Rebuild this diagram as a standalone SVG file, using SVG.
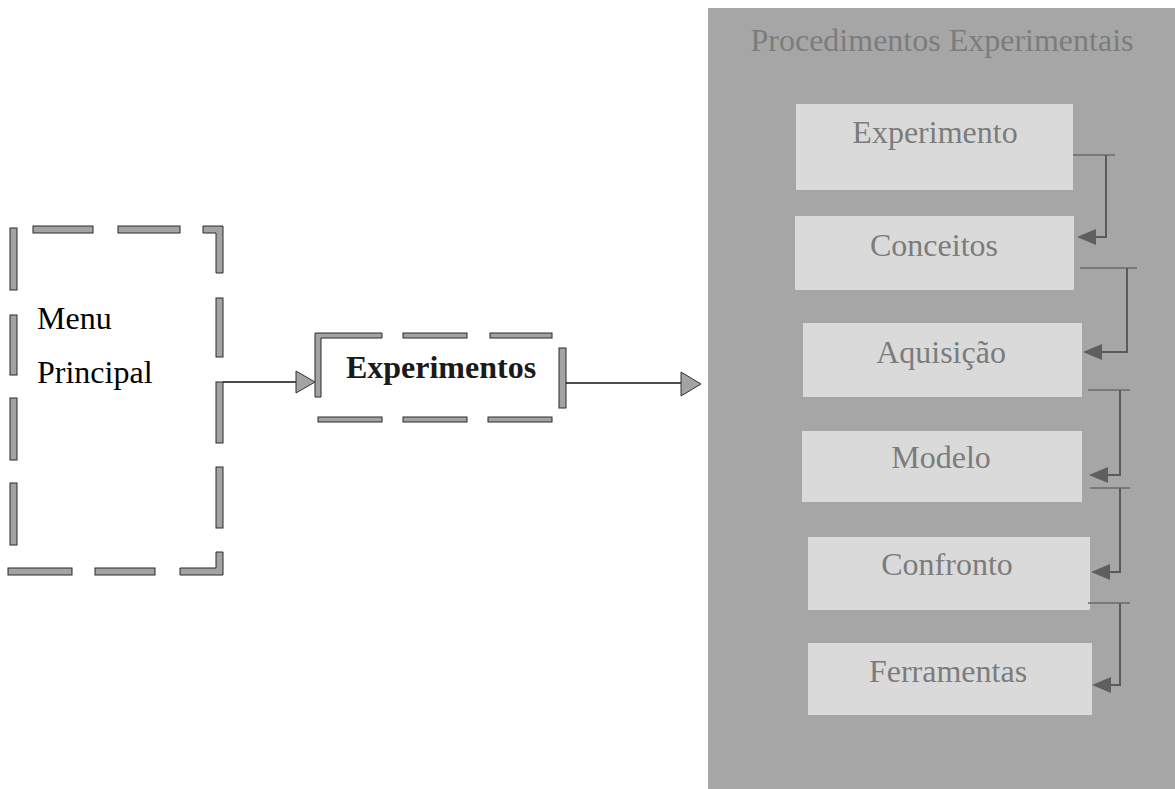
<svg xmlns="http://www.w3.org/2000/svg" width="1175" height="789" viewBox="0 0 1175 789">
<defs>
<style>
.dash{fill:#a3a3a3;stroke:#2a2a2a;stroke-width:1}
.txt{font-family:"Liberation Serif","Times New Roman",serif;font-size:32px}
.ptxt{font-family:"Liberation Serif","Times New Roman",serif;font-size:32px;fill:#7c7c7c;text-anchor:middle}
.inner{fill:#dadada}
.conn{fill:none;stroke:#5a5a5a;stroke-width:2}
.tick{fill:none;stroke:#6a6a6a;stroke-width:1.5}
.ah{fill:#5f5f5f}
.main{fill:none;stroke:#111;stroke-width:1.5}
.mah{fill:#a3a3a3;stroke:#333;stroke-width:1}
</style>
</defs>
<rect width="1175" height="789" fill="#ffffff"/>

<g id="menu-principal">
<rect class="dash" x="10" y="228" width="7" height="62"/>
<rect class="dash" x="10" y="315" width="7" height="60"/>
<rect class="dash" x="10" y="398" width="7" height="62"/>
<rect class="dash" x="10" y="483" width="7" height="62"/>
<rect class="dash" x="33" y="226" width="60" height="7"/>
<rect class="dash" x="118" y="226" width="62" height="7"/>
<path class="dash" d="M203,226 H223 V273 H216 V233 H203 Z"/>
<rect class="dash" x="216" y="298" width="7" height="59"/>
<rect class="dash" x="216" y="382" width="7" height="61"/>
<rect class="dash" x="216" y="467" width="7" height="61"/>
<path class="dash" d="M216,552 H223 V575 H180 V568 H216 Z"/>
<rect class="dash" x="8" y="568" width="64" height="7"/>
<rect class="dash" x="95" y="568" width="60" height="7"/>
<text class="txt" x="37" y="329">Menu</text>
<text class="txt" x="37" y="383">Principal</text>
</g>

<g id="experimentos">
<path class="dash" d="M315,333 H382 V338 H321 V397 H315 Z"/>
<rect class="dash" x="403" y="333" width="64" height="5"/>
<rect class="dash" x="490" y="333" width="62" height="5"/>
<rect class="dash" x="318" y="417" width="64" height="5"/>
<rect class="dash" x="403" y="417" width="64" height="5"/>
<rect class="dash" x="488" y="417" width="64" height="5"/>
<rect class="dash" x="559" y="348" width="7" height="60"/>
<text class="txt" x="441" y="378" text-anchor="middle" font-weight="bold" fill="#1a1a1a">Experimentos</text>
</g>

<g id="procedimentos-experimentais">
<rect x="708" y="8" width="467" height="781" fill="#a6a6a6"/>
<text class="ptxt" x="942" y="51" fill="#8a8a8a">Procedimentos Experimentais</text>
</g>

<g id="node-experimento">
<rect class="inner" x="796" y="104" width="277" height="86"/>
<text class="ptxt" x="935" y="143">Experimento</text>
</g>
<g id="node-conceitos">
<rect class="inner" x="795" y="216" width="279" height="74"/>
<text class="ptxt" x="934" y="256">Conceitos</text>
</g>
<g id="node-aquisicao">
<rect class="inner" x="803" y="323" width="279" height="74"/>
<text class="ptxt" x="941" y="363">Aquisição</text>
</g>
<g id="node-modelo">
<rect class="inner" x="802" y="431" width="280" height="71"/>
<text class="ptxt" x="941" y="468">Modelo</text>
</g>
<g id="node-confronto">
<rect class="inner" x="808" y="537" width="282" height="73"/>
<text class="ptxt" x="947" y="575">Confronto</text>
</g>
<g id="node-ferramentas">
<rect class="inner" x="808" y="643" width="284" height="72"/>
<text class="ptxt" x="948" y="682">Ferramentas</text>
</g>

<g id="connectors">
<path class="main" d="M223,382 H298"/>
<path class="mah" d="M296,371 L315,382 L296,393 Z"/>
<path class="main" d="M566,383 H682"/>
<path class="mah" d="M681,372 L701,384 L681,396 Z"/>

<path class="tick" d="M1073,155 H1115"/>
<path class="conn" d="M1106,155 V237 H1092"/>
<path class="ah" d="M1077,237 L1096,229 L1096,245 Z"/>

<path class="tick" d="M1080,268 H1137"/>
<path class="conn" d="M1127,268 V352 H1098"/>
<path class="ah" d="M1083,352 L1102,344 L1102,360 Z"/>

<path class="tick" d="M1088,390 H1130"/>
<path class="conn" d="M1120,390 V475 H1104"/>
<path class="ah" d="M1089,475 L1108,467 L1108,483 Z"/>

<path class="tick" d="M1090,488 H1130"/>
<path class="conn" d="M1120,488 V572 H1106"/>
<path class="ah" d="M1091,572 L1110,564 L1110,580 Z"/>

<path class="tick" d="M1088,603 H1130"/>
<path class="conn" d="M1120,603 V685 H1107"/>
<path class="ah" d="M1092,685 L1111,677 L1111,693 Z"/>
</g>
</svg>
